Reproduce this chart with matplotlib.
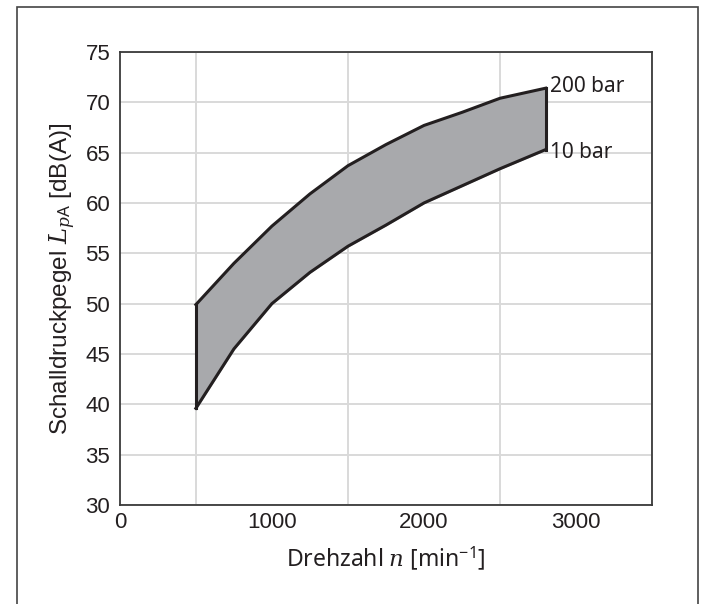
import matplotlib
matplotlib.use("Agg")
from matplotlib import pyplot as plt
from matplotlib.patches import Rectangle

# speed values (min^-1) along the band
speed = [500, 750, 1000, 1250, 1500, 1750, 2000, 2250, 2500, 2800]
# sound pressure level at 200 bar and 10 bar
level_200 = [49.9, 54.0, 57.7, 60.9, 63.7, 65.8, 67.7, 69.0, 70.4, 71.4]
level_10 = [39.6, 45.5, 50.0, 53.1, 55.7, 57.8, 60.0, 61.7, 63.4, 65.3]
curve_labels = ["200 bar", "10 bar"]

xticks = [0, 1000, 2000, 3000]
yticks = list(range(30, 80, 5))

plt.rcParams["font.family"] = ["Liberation Sans", "DejaVu Sans"]
plt.rcParams["mathtext.fontset"] = "custom"
plt.rcParams["mathtext.it"] = "DejaVu Serif:italic"
plt.rcParams["mathtext.rm"] = "Noto Sans"

ink = "#231f20"

fig = plt.figure(figsize=(7.05, 6.04), dpi=100)
ax = fig.add_axes([0.170, 0.164, 0.755, 0.750])

# outer frame around the whole figure
fig.add_artist(Rectangle((17 / 705, -0.05), (698 - 17) / 705, 1.05 - 7 / 604,
                         transform=fig.transFigure, fill=False,
                         edgecolor="#444444", linewidth=1.2, clip_on=False))

# grid every 500 min^-1 and every 5 dB
ax.set_xticks(range(0, 3501, 500), minor=True)
ax.grid(True, which="minor", axis="x", color="#d9d9d9", linewidth=1.4)
ax.grid(True, which="major", axis="y", color="#d9d9d9", linewidth=1.4)
ax.set_axisbelow(True)

# shaded band between the two pressure curves
ax.fill_between(speed, level_10, level_200, color="#a8a9ac", zorder=2)
ax.plot(speed, level_200, color=ink, linewidth=2.2, zorder=3)
ax.plot(speed, level_10, color=ink, linewidth=2.2, zorder=3)
ax.plot([speed[0], speed[0]], [level_10[0], level_200[0]], color=ink, linewidth=2.2, zorder=3)
ax.plot([speed[-1], speed[-1]], [level_10[-1], level_200[-1]], color=ink, linewidth=2.2, zorder=3)

ax.text(speed[-1] + 30, level_200[-1] + 0.2, curve_labels[0], fontsize=15,
        color=ink, va="center", ha="left", family="Noto Sans")
ax.text(speed[-1] + 30, level_10[-1] - 0.3, curve_labels[1], fontsize=15,
        color=ink, va="center", ha="left", family="Noto Sans")

ax.set_xlim(0, 3500)
ax.set_ylim(30, 75)
ax.set_xticks(xticks)
ax.set_yticks(yticks)
ax.tick_params(axis="both", which="both", length=0, labelsize=16, colors=ink)
ax.tick_params(axis="x", pad=5)
ax.tick_params(axis="y", pad=7)

for s in ax.spines.values():
    s.set_color("#3a3a3a")
    s.set_linewidth(1.3)

ax.set_xlabel(r"Drehzahl $n$ [min$^{\mathrm{-1}}$]", fontsize=16.5, color=ink,
              family="Noto Sans", labelpad=8)
ax.set_ylabel(r"Schalldruckpegel $L_{p\mathrm{A}}$ [dB(A)]", fontsize=17.5, color=ink,
              labelpad=5)

plt.savefig("out.png", dpi=100)
